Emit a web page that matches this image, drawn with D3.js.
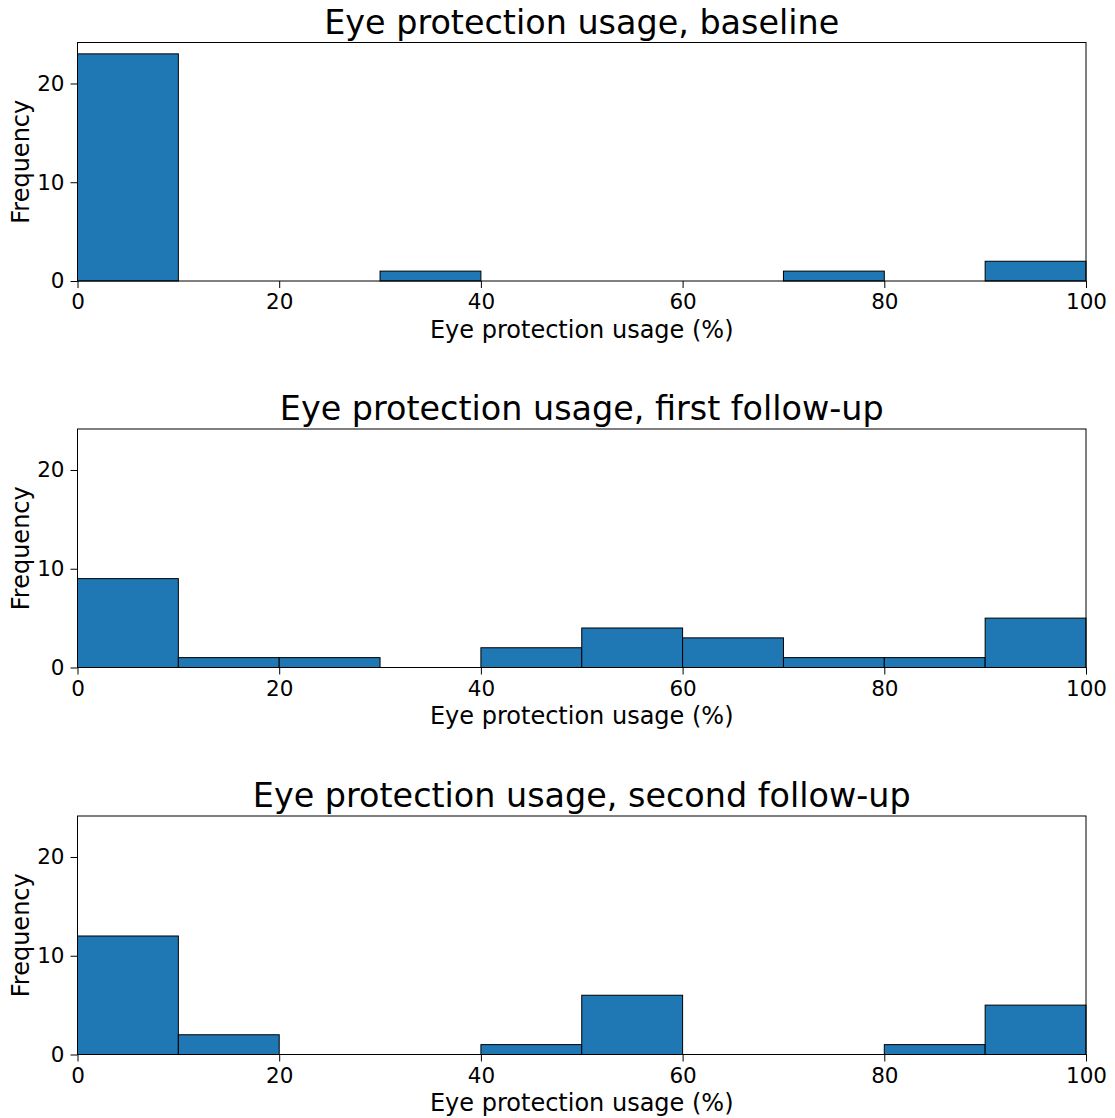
<!DOCTYPE html>
<html>
<head>
<meta charset="utf-8">
<script src="https://cdn.jsdelivr.net/npm/d3@7"></script>
<style>
  body { margin: 0; background: #fff; }
  text { font-family: "DejaVu Sans", sans-serif; fill: #000; }
</style>
</head>
<body>
<div id="chart"></div>
<script>
// histogram bins (10-point wide, 0..100)
const binEdges = [0, 10, 20, 30, 40, 50, 60, 70, 80, 90, 100];
const baseline = [23, 0, 0, 1, 0, 0, 0, 1, 0, 2];
const firstFollowUp = [9, 1, 1, 0, 2, 4, 3, 1, 1, 5];
const secondFollowUp = [12, 2, 0, 0, 1, 6, 0, 0, 1, 5];
const titles = [
  "Eye protection usage, baseline",
  "Eye protection usage, first follow-up",
  "Eye protection usage, second follow-up"
];
const xTicks = [0, 20, 40, 60, 80, 100];
const yTicks = [0, 10, 20];

const width = 1115, height = 1118;
const left = 77.5, right = 1086;
const panelTops = [42.5, 429, 816];
const panelH = 238.5;

const svg = d3.select("#chart").append("svg")
  .attr("width", width)
  .attr("height", height);

const x = d3.scaleLinear().domain([0, 100]).range([left, right]);

[baseline, firstFollowUp, secondFollowUp].forEach((counts, i) => {
  const top = panelTops[i];
  const y = d3.scaleLinear().domain([0, 24.15]).range([top + panelH, top]);
  const g = svg.append("g");

  const bins = counts.map((c, j) => ({ x0: binEdges[j], x1: binEdges[j + 1], n: c }));

  g.selectAll("rect.bar")
    .data(bins)
    .enter()
    .append("rect")
    .attr("class", "bar")
    .attr("x", d => x(d.x0))
    .attr("y", d => y(d.n))
    .attr("width", d => x(d.x1) - x(d.x0))
    .attr("height", d => y(0) - y(d.n))
    .attr("fill", "#1f77b4")
    .attr("stroke", "#000")
    .attr("stroke-width", 1);

  // axes
  const xAxis = g.append("g")
    .attr("transform", `translate(0,${top + panelH})`)
    .call(d3.axisBottom(x).tickValues(xTicks).tickSize(7).tickPadding(6));
  const yAxis = g.append("g")
    .attr("transform", `translate(${left},0)`)
    .call(d3.axisLeft(y).tickValues(yTicks).tickSize(7).tickPadding(6));
  [xAxis, yAxis].forEach(a => {
    a.select(".domain").remove();
    a.selectAll("text").style("font-size", "21.5px").attr("fill", "#000");
    a.selectAll("line").attr("stroke", "#000");
  });

  // frame
  g.append("rect")
    .attr("x", left)
    .attr("y", top)
    .attr("width", right - left)
    .attr("height", panelH)
    .attr("fill", "none")
    .attr("stroke", "#000")
    .attr("stroke-width", 1);

  g.append("text")
    .attr("x", (left + right) / 2)
    .attr("y", top - 9)
    .attr("text-anchor", "middle")
    .style("font-size", "33.4px")
    .text(titles[i]);

  g.append("text")
    .attr("x", (left + right) / 2)
    .attr("y", top + panelH + 56.5)
    .attr("text-anchor", "middle")
    .style("font-size", "24px")
    .text("Eye protection usage (%)");

  g.append("text")
    .attr("transform", `translate(29,${top + panelH / 2}) rotate(-90)`)
    .attr("text-anchor", "middle")
    .style("font-size", "24px")
    .text("Frequency");
});
</script>
</body>
</html>
